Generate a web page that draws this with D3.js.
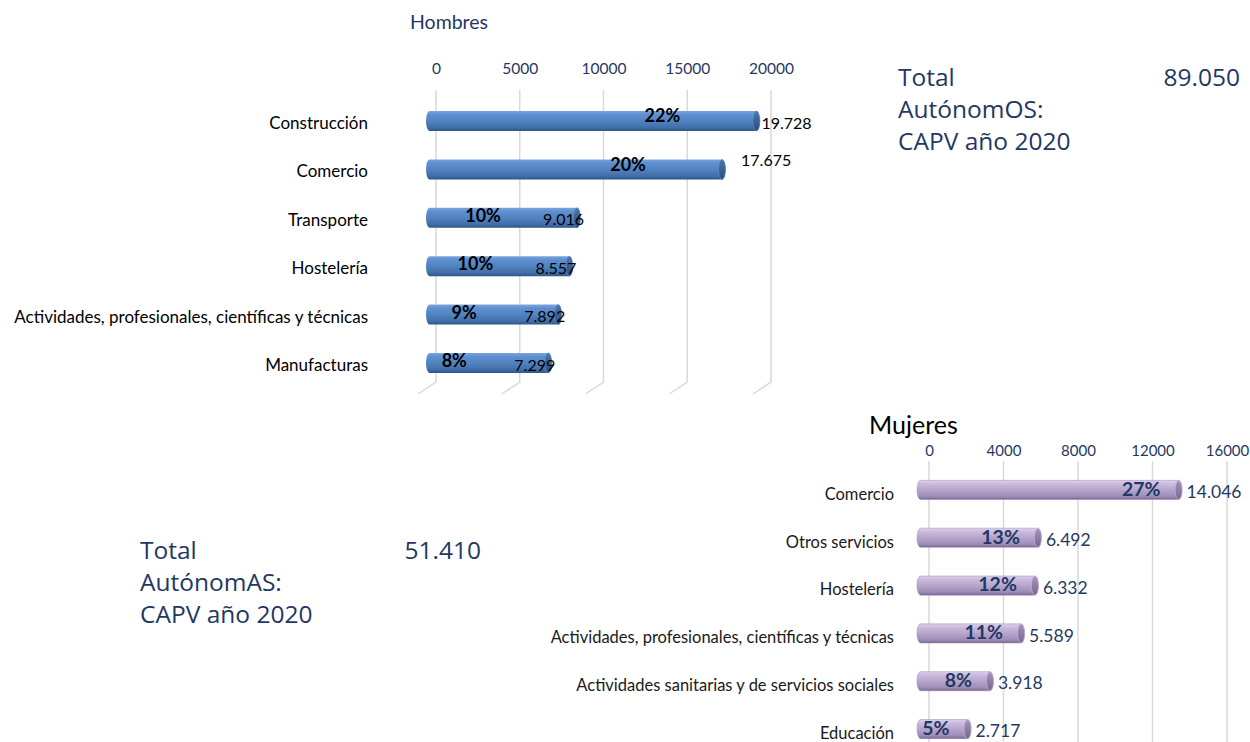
<!DOCTYPE html>
<html>
<head>
    <meta charset="UTF-8">
    <title>Autónomos CAPV 2020</title>
    <style>
        body { margin: 0; background: #fff; }
    </style>
</head>
<body>
<script src="https://cdn.jsdelivr.net/npm/d3@7/dist/d3.min.js"></script>
<script>

    // ---- datos ----
    var catHombres = ["Construcción", "Comercio", "Transporte", "Hostelería",
        "Actividades, profesionales, científicas y técnicas", "Manufacturas"];
    var valHombres = [19728, 17675, 9016, 8557, 7892, 7299];
    var ticksHombres = [0, 5000, 10000, 15000, 20000];
    var totalHombres = 89050;

    var catMujeres = ["Comercio", "Otros servicios", "Hostelería",
        "Actividades, profesionales, científicas y técnicas",
        "Actividades sanitarias y de servicios sociales", "Educación"];
    var valMujeres = [14046, 6492, 6332, 5589, 3918, 2717];
    var ticksMujeres = [0, 4000, 8000, 12000, 16000];
    var totalMujeres = 51410;

    var width = 1250, height = 742;
    var navy = "#1F3864";
    var fmt = d3.formatLocale({decimal: ",", thousands: ".", grouping: [3], currency: ["", ""]}).format(",d");

    var svg = d3.select("body").append("svg")
        .attr("width", width)
        .attr("height", height)
        .style("font-family", "Lato, 'Open Sans', sans-serif");

    var defs = svg.append("defs");
    function grad(id, stops) {
        var g = defs.append("linearGradient").attr("id", id)
            .attr("x1", 0).attr("y1", 0).attr("x2", 0).attr("y2", 1);
        stops.forEach(s => g.append("stop").attr("offset", s[0]).attr("stop-color", s[1]));
    }
    grad("gH", [["0%", "#7AA5DC"], ["18%", "#5F8FD1"], ["55%", "#4F81BD"], ["85%", "#3F6CA6"], ["100%", "#2E5584"]]);
    grad("gHcap", [["0%", "#4E77AC"], ["100%", "#2C4C78"]]);
    grad("gM", [["0%", "#DDD1EC"], ["20%", "#C9B9DE"], ["55%", "#B3A2C7"], ["85%", "#9C8BB5"], ["100%", "#776592"]]);
    grad("gMcap", [["0%", "#A594BE"], ["100%", "#77658F"]]);

    // cuerpo del cilindro horizontal
    function bodyPath(x0, x1, y, h, e) {
        return "M" + (x0 + e) + "," + y +
            "L" + x1 + "," + y +
            "A" + e + "," + (h / 2) + " 0 0 1 " + x1 + "," + (y + h) +
            "L" + (x0 + e) + "," + (y + h) +
            "A" + e + "," + (h / 2) + " 0 0 1 " + (x0 + e) + "," + y + "Z";
    }

    // ================= HOMBRES =================
    var xH = d3.scaleLinear().domain([0, 20000]).range([436, 771]);
    var yH = d3.scaleBand().domain(catHombres).range([97, 387])
        .paddingInner(0.587).paddingOuter(0.29);
    var depthH = 10;

    var gH = svg.append("g");

    // rejilla con suelo 3D
    gH.selectAll(".grid").data(ticksHombres).join("path")
        .attr("d", d => "M" + xH(d) + ",90L" + xH(d) + ",382L" + (xH(d) - 18) + ",394")
        .attr("fill", "none")
        .attr("stroke", "#d9d9d9")
        .attr("stroke-width", 1.5);

    var axH = gH.append("g")
        .attr("transform", "translate(0,77)")
        .call(d3.axisTop(xH).tickValues(ticksHombres).tickSize(0).tickFormat(d3.format("d")));
    axH.select(".domain").remove();
    axH.selectAll("text")
        .attr("fill", navy)
        .style("font-size", "15.5px")
        .style("font-family", "Lato, sans-serif");

    gH.append("text")
        .attr("x", 410).attr("y", 29)
        .attr("fill", navy)
        .style("font-family", "Lato, sans-serif")
        .style("font-size", "19.5px")
        .text("Hombres");

    var rowsH = gH.selectAll(".rowH").data(catHombres).join("g");

    rowsH.append("text")
        .attr("x", 368)
        .attr("y", d => yH(d) + yH.bandwidth() / 2 + 2)
        .attr("dy", "0.35em")
        .attr("text-anchor", "end")
        .style("font-size", "17px")
        .attr("fill", "#000")
        .text(d => d);

    rowsH.append("path")
        .attr("d", (d, i) => bodyPath(xH(0) - depthH, xH(valHombres[i]) - depthH, yH(d), yH.bandwidth(), 3.5))
        .attr("fill", "url(#gH)");

    rowsH.append("ellipse")
        .attr("cx", (d, i) => xH(valHombres[i]) - depthH)
        .attr("cy", d => yH(d) + yH.bandwidth() / 2)
        .attr("rx", 3.5)
        .attr("ry", yH.bandwidth() / 2)
        .attr("fill", "url(#gHcap)")
        .attr("stroke", "#5F8FD1")
        .attr("stroke-width", 0.6);

    rowsH.append("text")
        .attr("x", (d, i) => xH(valHombres[i]) - depthH - 94)
        .attr("y", (d, i) => yH(d) + yH.bandwidth() / 2 - (i < 2 ? 5 : 2))
        .attr("dy", "0.35em")
        .attr("text-anchor", "middle")
        .style("font-size", "18px")
        .style("font-weight", "bold")
        .attr("fill", "#000")
        .text((d, i) => Math.round(valHombres[i] / totalHombres * 100) + "%");

    rowsH.append("text")
        .attr("x", (d, i) => valHombres[i] > 15000 ? xH(valHombres[i]) - depthH + (i == 0 ? 5 : 19) : xH(valHombres[i]) - depthH + 7)
        .attr("y", (d, i) => yH(d) + yH.bandwidth() / 2 + (i == 1 ? -9 : 2))
        .attr("dy", "0.35em")
        .attr("text-anchor", (d, i) => valHombres[i] > 15000 ? "start" : "end")
        .style("font-size", "16px")
        .attr("fill", "#000")
        .text((d, i) => fmt(valHombres[i]));

    // ================= MUJERES =================
    var xM = d3.scaleLinear().domain([0, 16000]).range([929, 1227]);
    var yM = d3.scaleBand().domain(catMujeres).range([466, 753])
        .paddingInner(0.6).paddingOuter(0.3);
    var depthM = 12;

    var gM = svg.append("g");

    gM.selectAll(".grid").data(ticksMujeres).join("line")
        .attr("x1", d => xM(d)).attr("x2", d => xM(d))
        .attr("y1", 461).attr("y2", 742)
        .attr("stroke", "#d9d9d9")
        .attr("stroke-width", 1.5);

    var axM = gM.append("g")
        .attr("transform", "translate(0,459)")
        .call(d3.axisTop(xM).tickValues(ticksMujeres).tickSize(0).tickFormat(d3.format("d")));
    axM.select(".domain").remove();
    axM.selectAll("text")
        .attr("fill", navy)
        .style("font-size", "15px")
        .style("font-family", "Lato, sans-serif");

    gM.append("text")
        .attr("x", 869).attr("y", 434)
        .attr("fill", "#000")
        .style("font-family", "Lato, sans-serif")
        .style("font-size", "25px")
        .text("Mujeres");

    var rowsM = gM.selectAll(".rowM").data(catMujeres).join("g");

    rowsM.append("text")
        .attr("x", 894)
        .attr("y", d => yM(d) + yM.bandwidth() / 2 + 4)
        .attr("dy", "0.35em")
        .attr("text-anchor", "end")
        .style("font-size", "16.5px")
        .attr("fill", "#1a1a1a")
        .text(d => d);

    rowsM.append("path")
        .attr("d", (d, i) => bodyPath(xM(0) - depthM, xM(valMujeres[i]) - depthM, yM(d), yM.bandwidth(), 3.5))
        .attr("fill", "url(#gM)")
        .attr("stroke", "#9a89b3")
        .attr("stroke-width", 0.5);

    rowsM.append("ellipse")
        .attr("cx", (d, i) => xM(valMujeres[i]) - depthM)
        .attr("cy", d => yM(d) + yM.bandwidth() / 2)
        .attr("rx", 3.5)
        .attr("ry", yM.bandwidth() / 2)
        .attr("fill", "url(#gMcap)")
        .attr("stroke", "#C9B9DE")
        .attr("stroke-width", 0.6);

    rowsM.append("text")
        .attr("x", (d, i) => xM(valMujeres[i]) - depthM - 18)
        .attr("y", d => yM(d) + yM.bandwidth() / 2 - 1)
        .attr("dy", "0.35em")
        .attr("text-anchor", "end")
        .style("font-size", "19.5px")
        .style("font-weight", "bold")
        .attr("fill", navy)
        .text((d, i) => Math.round(valMujeres[i] / totalMujeres * 100) + "%");

    rowsM.append("text")
        .attr("x", (d, i) => xM(valMujeres[i]) - depthM + 8)
        .attr("y", d => yM(d) + yM.bandwidth() / 2 + 2)
        .attr("dy", "0.35em")
        .attr("text-anchor", "start")
        .style("font-size", "17.5px")
        .attr("fill", navy)
        .text((d, i) => fmt(valMujeres[i]));

    // ================= TOTALES =================
    function totalBox(x, xv, y, word, total) {
        var g = svg.append("g")
            .style("font-family", "'Open Sans', sans-serif")
            .style("font-size", "24.5px")
            .attr("fill", navy);
        g.append("text").attr("x", x).attr("y", y).text("Total");
        g.append("text").attr("x", xv).attr("y", y).attr("text-anchor", "end").text(fmt(total));
        g.append("text").attr("x", x).attr("y", y + 32).text(word);
        g.append("text").attr("x", x).attr("y", y + 64).text("CAPV año 2020");
    }
    totalBox(898, 1240, 86, "AutónomOS:", totalHombres);
    totalBox(140, 481, 559, "AutónomAS:", totalMujeres);

</script>
</body>
</html>
